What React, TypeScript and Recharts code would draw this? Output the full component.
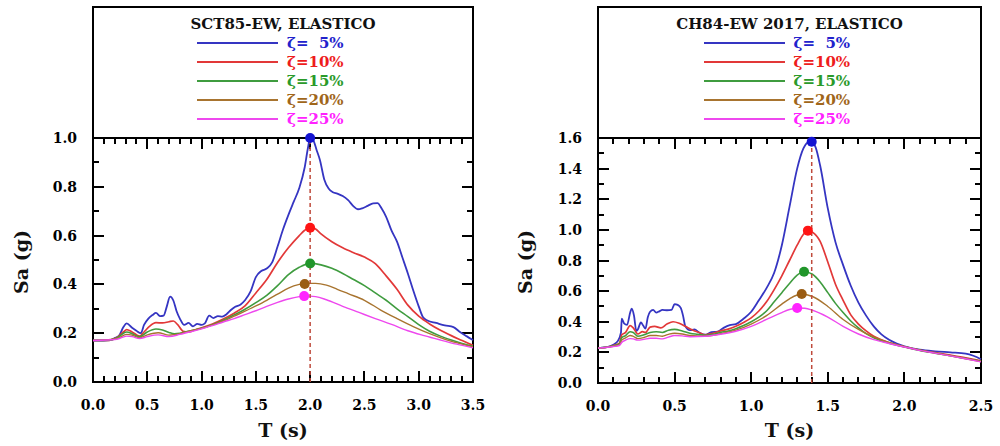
import React from 'react';
import { LineChart, Line, XAxis, YAxis, ReferenceLine, ReferenceDot } from 'recharts';

// ---------------- data ----------------
const dampingLabels = ['ζ=\u20075%', 'ζ=10%', 'ζ=15%', 'ζ=20%', 'ζ=25%'];

const sct85Title = 'SCT85-EW, ELASTICO';
const ch84Title = 'CH84-EW 2017, ELASTICO';
const xAxisTitle = 'T (s)';
const yAxisTitle = 'Sa (g)';

// SCT85-EW  [T (s), Sa (g)]
const sct85Z5: number[][] = [
  [0, 0.17], [0.1, 0.17], [0.16, 0.172], [0.2, 0.18], [0.24, 0.19], [0.28, 0.225], [0.31, 0.24],
  [0.36, 0.222], [0.4, 0.21], [0.44, 0.2], [0.47, 0.234], [0.51, 0.26], [0.55, 0.275], [0.58, 0.283],
  [0.62, 0.27], [0.65, 0.272], [0.68, 0.31], [0.71, 0.35], [0.74, 0.334], [0.77, 0.29], [0.8, 0.26],
  [0.84, 0.234], [0.88, 0.242], [0.92, 0.228], [0.96, 0.238], [1.0, 0.234], [1.03, 0.24], [1.07, 0.272],
  [1.11, 0.262], [1.15, 0.27], [1.19, 0.268], [1.23, 0.278], [1.27, 0.295], [1.31, 0.308], [1.36, 0.318],
  [1.4, 0.335], [1.45, 0.37], [1.5, 0.43], [1.55, 0.455], [1.6, 0.465], [1.65, 0.49], [1.7, 0.555],
  [1.75, 0.625], [1.8, 0.685], [1.85, 0.74], [1.9, 0.795], [1.95, 0.88], [1.98, 0.96], [2.0, 1.0],
  [2.03, 0.99], [2.06, 0.95], [2.09, 0.91], [2.13, 0.83], [2.17, 0.793], [2.21, 0.778], [2.25, 0.772],
  [2.3, 0.762], [2.35, 0.745], [2.4, 0.72], [2.44, 0.708], [2.48, 0.712], [2.53, 0.722], [2.58, 0.732],
  [2.62, 0.733], [2.66, 0.71], [2.7, 0.677], [2.75, 0.62], [2.8, 0.575], [2.85, 0.51], [2.9, 0.445],
  [2.95, 0.375], [3.0, 0.31], [3.04, 0.265], [3.08, 0.252], [3.16, 0.242], [3.24, 0.232], [3.32, 0.225],
  [3.38, 0.205], [3.44, 0.188], [3.5, 0.172],
];
const sct85Z10: number[][] = [
  [0, 0.17], [0.15, 0.171], [0.22, 0.182], [0.28, 0.205], [0.31, 0.215], [0.36, 0.205], [0.43, 0.188],
  [0.47, 0.205], [0.52, 0.228], [0.58, 0.243], [0.64, 0.242], [0.7, 0.247], [0.74, 0.25], [0.78, 0.235],
  [0.83, 0.208], [0.88, 0.205], [0.95, 0.215], [1.0, 0.222], [1.1, 0.238], [1.2, 0.258], [1.3, 0.282],
  [1.4, 0.312], [1.5, 0.365], [1.6, 0.42], [1.7, 0.49], [1.8, 0.55], [1.9, 0.6], [1.95, 0.622],
  [2.0, 0.635], [2.05, 0.627], [2.1, 0.607], [2.2, 0.575], [2.3, 0.55], [2.4, 0.53], [2.5, 0.512],
  [2.6, 0.485], [2.7, 0.435], [2.8, 0.38], [2.9, 0.315], [3.0, 0.27], [3.1, 0.238], [3.2, 0.212],
  [3.3, 0.19], [3.4, 0.17], [3.5, 0.15],
];
const sct85Z15: number[][] = [
  [0, 0.17], [0.15, 0.171], [0.22, 0.18], [0.31, 0.205], [0.36, 0.198], [0.43, 0.185], [0.5, 0.205],
  [0.58, 0.217], [0.64, 0.213], [0.7, 0.203], [0.75, 0.198], [0.8, 0.2], [0.9, 0.21], [1.0, 0.22],
  [1.1, 0.235], [1.2, 0.253], [1.3, 0.275], [1.4, 0.298], [1.5, 0.325], [1.6, 0.355], [1.7, 0.395],
  [1.8, 0.44], [1.9, 0.47], [2.0, 0.486], [2.1, 0.48], [2.2, 0.466], [2.3, 0.445], [2.4, 0.42],
  [2.5, 0.395], [2.6, 0.365], [2.7, 0.335], [2.8, 0.3], [2.9, 0.268], [3.0, 0.235], [3.1, 0.208],
  [3.2, 0.188], [3.3, 0.172], [3.4, 0.158], [3.5, 0.146],
];
const sct85Z20: number[][] = [
  [0, 0.17], [0.22, 0.178], [0.31, 0.195], [0.36, 0.192], [0.43, 0.182], [0.5, 0.193], [0.6, 0.202],
  [0.7, 0.192], [0.8, 0.198], [0.9, 0.21], [1.0, 0.22], [1.1, 0.234], [1.2, 0.25], [1.3, 0.27],
  [1.4, 0.29], [1.5, 0.312], [1.6, 0.335], [1.7, 0.36], [1.8, 0.385], [1.9, 0.4], [1.95, 0.404],
  [2.05, 0.404], [2.15, 0.397], [2.25, 0.38], [2.35, 0.362], [2.5, 0.335], [2.65, 0.295], [2.8, 0.26],
  [2.95, 0.227], [3.1, 0.198], [3.25, 0.174], [3.4, 0.155], [3.5, 0.144],
];
const sct85Z25: number[][] = [
  [0, 0.17], [0.22, 0.175], [0.31, 0.188], [0.36, 0.186], [0.43, 0.178], [0.5, 0.186], [0.6, 0.193],
  [0.7, 0.186], [0.8, 0.195], [0.9, 0.206], [1.0, 0.218], [1.1, 0.231], [1.2, 0.246], [1.3, 0.26],
  [1.4, 0.276], [1.5, 0.292], [1.6, 0.31], [1.7, 0.326], [1.8, 0.34], [1.9, 0.35], [1.95, 0.353],
  [2.05, 0.35], [2.15, 0.337], [2.3, 0.31], [2.45, 0.285], [2.6, 0.26], [2.75, 0.236], [2.9, 0.21],
  [3.05, 0.19], [3.2, 0.172], [3.35, 0.155], [3.5, 0.14],
];
const sct85PeakT = [2.0, 2.0, 2.0, 1.95, 1.945];
const sct85PeakSa = [1.0, 0.632, 0.486, 0.402, 0.352];
const sct85RefT = 2.0;

// CH84-EW 2017  [T (s), Sa (g)]
const ch84Z5: number[][] = [
  [0, 0.228], [0.05, 0.232], [0.1, 0.25], [0.13, 0.275], [0.15, 0.33], [0.155, 0.42], [0.17, 0.39],
  [0.19, 0.38], [0.21, 0.46], [0.22, 0.485], [0.235, 0.44], [0.25, 0.34], [0.26, 0.35], [0.28, 0.395],
  [0.295, 0.375], [0.31, 0.355], [0.325, 0.43], [0.34, 0.465], [0.36, 0.477], [0.38, 0.46], [0.4, 0.468],
  [0.42, 0.477], [0.45, 0.475], [0.48, 0.478], [0.5, 0.515], [0.52, 0.51], [0.54, 0.49], [0.555, 0.44],
  [0.57, 0.37], [0.6, 0.345], [0.63, 0.35], [0.66, 0.33], [0.7, 0.315], [0.74, 0.332], [0.78, 0.335],
  [0.82, 0.36], [0.86, 0.378], [0.9, 0.385], [0.95, 0.42], [1.0, 0.465], [1.05, 0.54], [1.1, 0.62],
  [1.15, 0.72], [1.2, 0.9], [1.25, 1.15], [1.3, 1.4], [1.34, 1.53], [1.37, 1.572], [1.39, 1.578],
  [1.42, 1.54], [1.45, 1.42], [1.5, 1.14], [1.55, 0.92], [1.6, 0.77], [1.65, 0.635], [1.7, 0.525],
  [1.75, 0.44], [1.8, 0.37], [1.85, 0.318], [1.9, 0.283], [1.95, 0.258], [2.0, 0.24], [2.1, 0.218],
  [2.2, 0.207], [2.3, 0.2], [2.4, 0.192], [2.45, 0.178], [2.5, 0.155],
];
const ch84Z10: number[][] = [
  [0, 0.228], [0.05, 0.232], [0.1, 0.245], [0.14, 0.26], [0.155, 0.315], [0.18, 0.33], [0.21, 0.375],
  [0.23, 0.36], [0.26, 0.32], [0.29, 0.335], [0.31, 0.33], [0.34, 0.365], [0.37, 0.37], [0.41, 0.36],
  [0.45, 0.385], [0.49, 0.4], [0.53, 0.39], [0.57, 0.37], [0.62, 0.345], [0.66, 0.33], [0.7, 0.315],
  [0.75, 0.325], [0.8, 0.34], [0.85, 0.352], [0.9, 0.37], [0.95, 0.395], [1.0, 0.425], [1.05, 0.47],
  [1.1, 0.53], [1.15, 0.61], [1.2, 0.7], [1.25, 0.8], [1.3, 0.9], [1.34, 0.97], [1.37, 0.995],
  [1.4, 0.985], [1.45, 0.925], [1.5, 0.79], [1.55, 0.645], [1.6, 0.54], [1.65, 0.445], [1.7, 0.385],
  [1.75, 0.34], [1.8, 0.305], [1.85, 0.282], [1.9, 0.263], [1.95, 0.249], [2.0, 0.237], [2.1, 0.215],
  [2.2, 0.198], [2.3, 0.182], [2.4, 0.165], [2.5, 0.145],
];
const ch84Z15: number[][] = [
  [0, 0.228], [0.1, 0.243], [0.14, 0.255], [0.155, 0.295], [0.18, 0.31], [0.21, 0.335], [0.23, 0.33],
  [0.26, 0.305], [0.3, 0.315], [0.34, 0.33], [0.38, 0.335], [0.42, 0.33], [0.46, 0.345], [0.5, 0.35],
  [0.55, 0.34], [0.6, 0.325], [0.65, 0.318], [0.7, 0.312], [0.75, 0.318], [0.8, 0.33], [0.85, 0.34],
  [0.9, 0.355], [0.95, 0.375], [1.0, 0.4], [1.05, 0.43], [1.1, 0.47], [1.15, 0.53], [1.2, 0.59],
  [1.25, 0.65], [1.3, 0.705], [1.345, 0.727], [1.4, 0.71], [1.45, 0.66], [1.5, 0.59], [1.55, 0.52],
  [1.6, 0.46], [1.65, 0.405], [1.7, 0.36], [1.75, 0.322], [1.8, 0.295], [1.85, 0.275], [1.9, 0.26],
  [2.0, 0.235], [2.1, 0.213], [2.2, 0.195], [2.3, 0.178], [2.4, 0.16], [2.5, 0.142],
];
const ch84Z20: number[][] = [
  [0, 0.228], [0.1, 0.24], [0.14, 0.25], [0.155, 0.28], [0.18, 0.295], [0.21, 0.31], [0.23, 0.305],
  [0.26, 0.29], [0.3, 0.297], [0.34, 0.31], [0.38, 0.31], [0.42, 0.305], [0.46, 0.318], [0.5, 0.325],
  [0.55, 0.32], [0.6, 0.31], [0.7, 0.306], [0.8, 0.322], [0.9, 0.345], [1.0, 0.385], [1.1, 0.44],
  [1.2, 0.515], [1.25, 0.55], [1.3, 0.575], [1.33, 0.58], [1.4, 0.565], [1.5, 0.5], [1.6, 0.415],
  [1.7, 0.35], [1.8, 0.3], [1.9, 0.265], [2.0, 0.237], [2.1, 0.215], [2.2, 0.195], [2.3, 0.177],
  [2.4, 0.158], [2.5, 0.14],
];
const ch84Z25: number[][] = [
  [0, 0.228], [0.1, 0.238], [0.14, 0.245], [0.155, 0.265], [0.18, 0.28], [0.21, 0.29], [0.23, 0.288],
  [0.26, 0.28], [0.3, 0.285], [0.34, 0.292], [0.38, 0.292], [0.42, 0.288], [0.46, 0.3], [0.5, 0.31],
  [0.55, 0.308], [0.6, 0.302], [0.7, 0.305], [0.8, 0.318], [0.9, 0.338], [1.0, 0.37], [1.1, 0.415],
  [1.2, 0.46], [1.25, 0.48], [1.3, 0.49], [1.35, 0.488], [1.4, 0.475], [1.5, 0.43], [1.6, 0.37],
  [1.7, 0.32], [1.8, 0.283], [1.9, 0.258], [2.0, 0.235], [2.1, 0.213], [2.2, 0.195], [2.3, 0.177],
  [2.4, 0.158], [2.5, 0.138],
];
const ch84PeakT = [1.395, 1.37, 1.345, 1.33, 1.3];
const ch84PeakSa = [1.576, 0.995, 0.727, 0.581, 0.49];
const ch84RefT = 1.395;

// ticks
const sct85XTicks = [0, 0.1, 0.2, 0.3, 0.4, 0.5, 0.6, 0.7, 0.8, 0.9, 1.0, 1.1, 1.2, 1.3, 1.4, 1.5, 1.6, 1.7, 1.8, 1.9, 2.0, 2.1, 2.2, 2.3, 2.4, 2.5, 2.6, 2.7, 2.8, 2.9, 3.0, 3.1, 3.2, 3.3, 3.4, 3.5];
const sct85XMajor = [0, 0.5, 1.0, 1.5, 2.0, 2.5, 3.0, 3.5];
const sct85YTicks = [0, 0.1, 0.2, 0.3, 0.4, 0.5, 0.6, 0.7, 0.8, 0.9, 1.0];
const sct85YMajor = [0, 0.2, 0.4, 0.6, 0.8, 1.0];
const ch84XTicks = [0, 0.1, 0.2, 0.3, 0.4, 0.5, 0.6, 0.7, 0.8, 0.9, 1.0, 1.1, 1.2, 1.3, 1.4, 1.5, 1.6, 1.7, 1.8, 1.9, 2.0, 2.1, 2.2, 2.3, 2.4, 2.5];
const ch84XMajor = [0, 0.5, 1.0, 1.5, 2.0, 2.5];
const ch84YTicks = [0, 0.1, 0.2, 0.3, 0.4, 0.5, 0.6, 0.7, 0.8, 0.9, 1.0, 1.1, 1.2, 1.3, 1.4, 1.5, 1.6];
const ch84YMajor = [0, 0.2, 0.4, 0.6, 0.8, 1.0, 1.2, 1.4, 1.6];

// ---------------- styles ----------------
const LINE_COLORS = ['#3535c2', '#e23838', '#3f9c3f', '#a8742f', '#ee48ee'];
const MARKER_COLORS = ['#1414d2', '#ff1414', '#21962a', '#9a5c12', '#ff24ff'];
const TEXT_COLORS = ['#2222cc', '#ee1c1c', '#2a9a2a', '#a0661a', '#ff22ff'];
const LINE_WIDTHS = [1.8, 1.7, 1.6, 1.4, 1.4];
const FONT = "'DejaVu Serif', serif";
const MAJOR_PX = 11;
const MINOR_PX = 6;
const TICK_PX = 2;

const isMajor = (majors: number[], v: number) => majors.some((m) => Math.abs(m - v) < 1e-6);

function makeXLabel(majors: number[]) {
  return (props: any) => {
    const { x, y, payload } = props;
    const v = Number(payload.value);
    if (!isMajor(majors, v)) return <g />;
    return (
      <text x={x} y={y + 28} textAnchor="middle" fontFamily={FONT} fontWeight="bold" fontSize={14} fill="#000">
        {v.toFixed(1)}
      </text>
    );
  };
}

function makeYLabel(majors: number[]) {
  return (props: any) => {
    const { x, y, payload } = props;
    const v = Number(payload.value);
    if (!isMajor(majors, v)) return <g />;
    return (
      <text x={x - 16} y={y + 5} textAnchor="end" fontFamily={FONT} fontWeight="bold" fontSize={14} fill="#000">
        {v.toFixed(1)}
      </text>
    );
  };
}

// regularly spaced inward tick strip along one side of the frame
function TickStrip(props: {
  side: 'top' | 'bottom' | 'left' | 'right';
  left: number;
  top: number;
  span: number;
  intervals: number;
  len: number;
}) {
  const { side, left, top, span, intervals, len } = props;
  const period = span / intervals;
  const horizontal = side === 'top' || side === 'bottom';
  const grad = `repeating-linear-gradient(${horizontal ? 'to right' : 'to bottom'}, #000 0px, #000 ${TICK_PX}px, transparent ${TICK_PX}px, transparent ${period}px)`;
  const style: React.CSSProperties = horizontal
    ? {
        position: 'absolute',
        left: left - TICK_PX / 2,
        width: span + TICK_PX,
        top: side === 'bottom' ? top - len : top,
        height: len,
        backgroundImage: grad,
        zIndex: 1,
      }
    : {
        position: 'absolute',
        top: top - TICK_PX / 2,
        height: span + TICK_PX,
        left: side === 'right' ? left - len : left,
        width: len,
        backgroundImage: grad,
        zIndex: 1,
      };
  return <div style={style} />;
}

type PanelProps = {
  offsetX: number;
  plotLeft: number;
  plotRight: number;
  plotTop: number;
  plotBottom: number;
  title: string;
  series: number[][][];
  peakT: number[];
  peakSa: number[];
  refT: number;
  xMax: number;
  yMax: number;
  xTicks: number[];
  xMajor: number[];
  yTicks: number[];
  yMajor: number[];
  yTitleX: number;
};

const CHART_W = 500;
const CHART_H = 446;
const FRAME_TOP = 7;

function Panel(p: PanelProps) {
  const plotW = p.plotRight - p.plotLeft;
  const plotH = p.plotBottom - p.plotTop;
  const margin = {
    top: p.plotTop,
    bottom: CHART_H - p.plotBottom - 50,
    left: p.plotLeft - p.offsetX - 60,
    right: p.offsetX + CHART_W - p.plotRight,
  };
  const cx = (p.plotLeft + p.plotRight) / 2;
  const xMinorN = p.xTicks.length - 1;
  const xMajorN = p.xMajor.length - 1;
  const yMinorN = p.yTicks.length - 1;
  const yMajorN = p.yMajor.length - 1;
  return (
    <div style={{ position: 'absolute', left: 0, top: 0, width: 1000, height: 446 }}>
      {/* outer frame and divider between legend and plot */}
      <div
        style={{
          position: 'absolute',
          left: p.plotLeft - 1,
          top: FRAME_TOP - 1,
          width: plotW + 2,
          height: p.plotBottom - FRAME_TOP + 2,
          border: '2px solid #000',
          boxSizing: 'border-box',
          zIndex: 0,
        }}
      />
      <div
        style={{
          position: 'absolute',
          left: p.plotLeft - 1,
          top: p.plotTop - 1,
          width: plotW + 2,
          height: 2,
          background: '#000',
          zIndex: 0,
        }}
      />
      {/* inward tick marks on all four sides */}
      <TickStrip side="bottom" left={p.plotLeft} top={p.plotBottom} span={plotW} intervals={xMinorN} len={MINOR_PX} />
      <TickStrip side="bottom" left={p.plotLeft} top={p.plotBottom} span={plotW} intervals={xMajorN} len={MAJOR_PX} />
      <TickStrip side="top" left={p.plotLeft} top={p.plotTop} span={plotW} intervals={xMinorN} len={MINOR_PX} />
      <TickStrip side="top" left={p.plotLeft} top={p.plotTop} span={plotW} intervals={xMajorN} len={MAJOR_PX} />
      <TickStrip side="left" left={p.plotLeft} top={p.plotTop} span={plotH} intervals={yMinorN} len={MINOR_PX} />
      <TickStrip side="left" left={p.plotLeft} top={p.plotTop} span={plotH} intervals={yMajorN} len={MAJOR_PX} />
      <TickStrip side="right" left={p.plotRight} top={p.plotTop} span={plotH} intervals={yMinorN} len={MINOR_PX} />
      <TickStrip side="right" left={p.plotRight} top={p.plotTop} span={plotH} intervals={yMajorN} len={MAJOR_PX} />
      <div style={{ position: 'absolute', left: p.offsetX, top: 0, zIndex: 2 }}>
        <LineChart width={CHART_W} height={CHART_H} margin={margin}>
          <XAxis
            dataKey="t"
            type="number"
            domain={[0, p.xMax]}
            ticks={p.xTicks}
            interval={0}
            height={50}
            tickLine={false}
            tickSize={0}
            tickMargin={0}
            axisLine={false}
            tick={makeXLabel(p.xMajor)}
          />
          <YAxis
            type="number"
            domain={[0, p.yMax]}
            ticks={p.yTicks}
            interval={0}
            width={60}
            tickLine={false}
            tickSize={0}
            tickMargin={0}
            axisLine={false}
            tick={makeYLabel(p.yMajor)}
          />
          {p.series.map((s, i) => (
            <Line
              key={i}
              data={s.map(([t, sa]) => ({ t, sa }))}
              dataKey="sa"
              type="monotone"
              stroke={LINE_COLORS[i]}
              strokeWidth={LINE_WIDTHS[i]}
              dot={false}
              activeDot={false}
              isAnimationActive={false}
            />
          ))}
          <ReferenceLine x={p.refT} stroke="#bf4a3c" strokeWidth={1.5} strokeDasharray="4 3" />
          {p.peakT.map((t, i) => (
            <ReferenceDot key={i} x={t} y={p.peakSa[i]} r={5} fill={MARKER_COLORS[i]} stroke="none" />
          ))}
        </LineChart>
      </div>
      <div
        style={{
          position: 'absolute',
          left: cx - 150,
          width: 300,
          top: 15,
          lineHeight: '18px',
          textAlign: 'center',
          fontFamily: FONT,
          fontWeight: 'bold',
          fontSize: 15,
          color: '#111',
          whiteSpace: 'pre',
          zIndex: 3,
        }}
      >
        {p.title}
      </div>
      {dampingLabels.map((lab, i) => (
        <React.Fragment key={i}>
          <div
            style={{
              position: 'absolute',
              left: cx - 86,
              width: 81,
              top: 42 + i * 19,
              height: LINE_WIDTHS[i] > 1.5 ? 2 : 1.5,
              background: LINE_COLORS[i],
              zIndex: 3,
            }}
          />
          <div
            style={{
              position: 'absolute',
              left: cx + 4,
              top: 34 + i * 19,
              lineHeight: '18px',
              fontFamily: FONT,
              fontWeight: 'bold',
              fontSize: 15,
              color: TEXT_COLORS[i],
              whiteSpace: 'pre',
              zIndex: 3,
            }}
          >
            {lab}
          </div>
        </React.Fragment>
      ))}
      <div
        style={{
          position: 'absolute',
          left: cx - 60,
          width: 120,
          top: 419,
          lineHeight: '22px',
          textAlign: 'center',
          fontFamily: FONT,
          fontWeight: 'bold',
          fontSize: 19,
          color: '#111',
          whiteSpace: 'pre',
          zIndex: 3,
        }}
      >
        {xAxisTitle}
      </div>
      <div
        style={{
          position: 'absolute',
          left: p.yTitleX - 60,
          width: 120,
          top: 262 - 11,
          lineHeight: '22px',
          textAlign: 'center',
          fontFamily: FONT,
          fontWeight: 'bold',
          fontSize: 19,
          color: '#111',
          whiteSpace: 'pre',
          transform: 'rotate(-90deg)',
          zIndex: 3,
        }}
      >
        {yAxisTitle}
      </div>
    </div>
  );
}

export default function App() {
  return (
    <div style={{ position: 'absolute', left: 0, top: 0, width: 1000, height: 446, background: '#fff', overflow: 'hidden' }}>
      <Panel
        offsetX={0}
        plotLeft={93}
        plotRight={473}
        plotTop={138}
        plotBottom={382}
        title={sct85Title}
        series={[sct85Z5, sct85Z10, sct85Z15, sct85Z20, sct85Z25]}
        peakT={sct85PeakT}
        peakSa={sct85PeakSa}
        refT={sct85RefT}
        xMax={3.5}
        yMax={1.0}
        xTicks={sct85XTicks}
        xMajor={sct85XMajor}
        yTicks={sct85YTicks}
        yMajor={sct85YMajor}
        yTitleX={21}
      />
      <Panel
        offsetX={500}
        plotLeft={598}
        plotRight={981}
        plotTop={138}
        plotBottom={383}
        title={ch84Title}
        series={[ch84Z5, ch84Z10, ch84Z15, ch84Z20, ch84Z25]}
        peakT={ch84PeakT}
        peakSa={ch84PeakSa}
        refT={ch84RefT}
        xMax={2.5}
        yMax={1.6}
        xTicks={ch84XTicks}
        xMajor={ch84XMajor}
        yTicks={ch84YTicks}
        yMajor={ch84YMajor}
        yTitleX={525}
      />
    </div>
  );
}
